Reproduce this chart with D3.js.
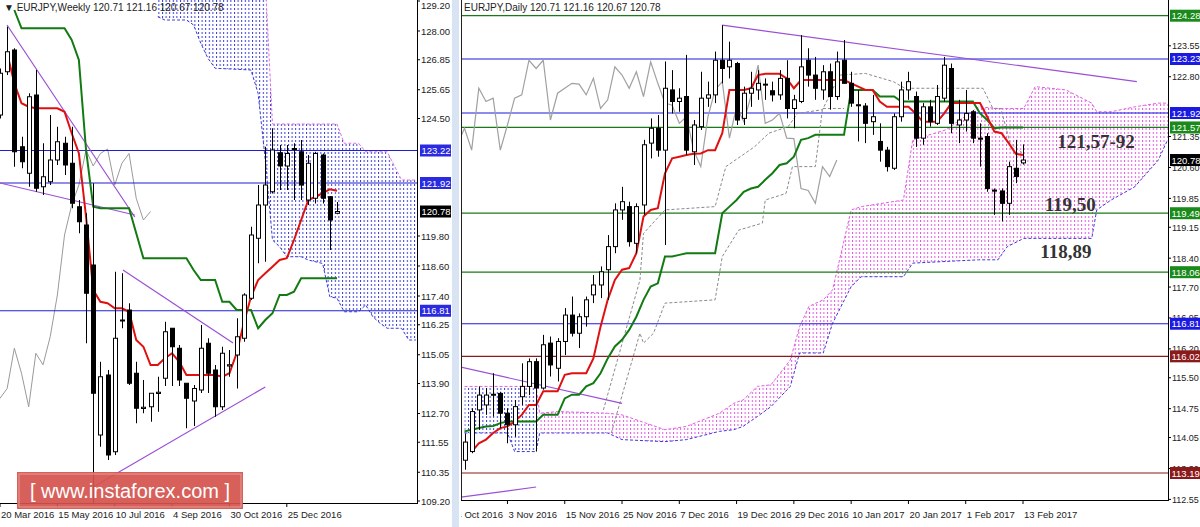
<!DOCTYPE html>
<html><head><meta charset="utf-8">
<script src="https://cdn.jsdelivr.net/npm/d3@7/dist/d3.min.js"></script>
<style>body{margin:0;background:#fff}svg{display:block;font-family:"Liberation Sans",Arial,sans-serif}</style>
</head><body><svg id="c" width="1200" height="527"></svg>
<script>
// ---------- WEEKLY DATA (index 0 = 20 Mar 2016) ----------
const wOpen  =[124.64,126.37,127.24,123.37,122.31,125.44,121.77,121.97,122.84,123.51,122.71,120.97,120.24,118.64,111.84,114.24,111.17,116.44,116.84,114.31,112.9,112.97,113.5,114.11,116.11,115.31,113.91,113.2,113.64,115.51,114.44,112.97,114.6,115.04,115.71,117.31,119.71,121.04,121.57,123.13,122.6,123.3,123.17,121.24,121.31,123.04,121.37,120.71];
const wClose =[126.31,127.17,123.17,122.77,125.37,121.71,122.17,122.84,123.57,122.64,121.11,120.37,117.51,113.51,114.17,111.04,115.71,116.4,113.91,112.91,112.95,113.51,113.55,115.97,115.37,114.04,113.31,113.7,115.31,114.31,112.97,115.11,114.65,115.77,117.44,119.84,121.04,121.84,123.24,122.6,123.1,123.28,121.84,122.71,123.1,121.31,120.44,120.78];
const wHigh  =[126.5,128.17,127.31,123.77,125.51,126.44,123.51,124.64,124.17,123.77,124.17,121.24,120.71,121.91,114.77,114.44,118.37,118.31,117.11,114.77,114.04,113.24,114.17,116.37,116.11,115.44,113.91,113.84,116.24,115.71,114.64,115.37,115.24,116.51,117.51,120.17,121.84,123.37,124.11,123.44,123.44,123.51,123.64,123.04,123.17,123.1,121.4,121.16];
const wLow   =[124.5,126.24,122.57,122.51,121.77,121.57,121.44,121.84,122.64,122.24,120.91,119.91,115.51,109.11,111.37,110.84,111.04,116.11,113.84,112.31,112.71,112.37,112.77,113.8,113.8,113.8,112.11,112.2,113.52,113.52,112.57,112.84,114.17,113.7,115.57,117.24,118.71,118.77,121.5,121.64,121.64,121.24,121.24,121.04,121.1,121.1,119.24,120.67];
const wTenkan=[null,127.11,125.91,125.11,124.97,124.91,124.91,124.91,124.91,124.77,123.91,123.11,120.57,117.64,117.17,117.11,116.91,116.91,116.77,115.64,115.37,114.64,114.64,114.91,115.11,114.77,114.24,114.24,114.24,114.24,114.24,114.17,114.31,115.11,116.31,117.37,118.04,118.31,118.57,118.84,118.91,119.64,120.44,121.24,121.37,121.51,121.67,121.61];
const wKijun =[null,null,128.84,128.11,128.11,128.11,128.11,128.11,128.11,128.11,127.64,126.84,123.24,120.97,120.91,120.91,120.91,120.91,120.91,119.91,118.91,118.91,118.91,118.91,118.91,118.91,118.91,118.44,118.04,118.04,118.04,117.17,117.17,116.84,116.84,116.84,116.11,116.44,116.71,117.44,117.44,117.57,118.11,118.11,118.11,118.11,118.11,118.11];
const wCloudIdx=[22,23,26,27,28,29,30,35,36,37,38,39,40,42,43,45,46,47,48,50,51,52,53,54,56,57,58];
const wCloudTop=[130,130,130,130,130,130,130,130,130,130,124.28,124.28,124.28,124.28,124.28,124.28,124.28,124.28,123.51,123.51,123.17,123.17,123.17,123.17,122.04,122.04,122.04];
const wCloudBot=[128.57,128.44,128.44,128.24,127.51,126.91,126.51,126.44,125.5,122.84,119.64,119.37,118.97,118.97,118.84,118.7,117.37,117.31,116.77,116.77,117.04,116.57,116.31,116.11,116.11,115.64,115.64];
const wTrend=[[[0.98,128.24],[18.8,120.56]],[[0,121.92],[18.8,120.64]],[[17.15,118.44],[32.5,115.52]],[[13,109.76],[37,113.76]]];
const wLevels=[123.22,121.92,116.81];
const wTicks=[129.20,128.00,126.85,125.65,124.50,119.80,118.60,117.40,116.25,115.05,113.90,112.70,111.55,110.35,109.20];
const wDates=["20 Mar 2016","15 May 2016","10 Jul 2016","4 Sep 2016","30 Oct 2016","25 Dec 2016"];
const wDateIdx=[0,8,16,24,32,40];

// ---------- DAILY DATA (index 78 = 13 Feb 2017) ----------
const dOpen =[113.5,113.71,114.72,114.84,115.08,115.12,114.64,114.36,115.04,115.29,115.89,115.25,116.34,115.73,116.38,117.02,116.58,116.98,117.51,117.75,118.12,118.68,119.57,119.65,118.76,119.69,121.19,121.55,121.02,122.48,122.2,122.32,120.98,121.59,122.28,122.36,123.2,123.04,123.12,121.79,122.4,122.48,122.6,122.46,122.36,122.76,122.03,122.2,123.2,122.84,122.48,122.92,122.32,123.2,122.64,122.12,122.09,121.71,121.23,121.02,120.58,121.83,122.48,122.32,121.31,122.07,121.67,122.28,123.0,121.63,121.75,121.95,121.31,121.35,120.05,120.03,119.73,120.58,120.71];
const dClose=[113.94,114.68,115.08,115.08,115.1,114.64,114.36,114.8,115.29,115.89,115.25,116.3,115.81,116.38,117.02,116.58,116.98,117.39,117.75,118.07,118.68,119.57,119.77,118.8,119.65,121.15,121.55,121.02,122.52,122.2,122.28,121.02,121.63,122.28,122.36,123.2,123.0,123.2,121.75,122.4,122.52,122.64,122.62,122.36,122.76,122.03,122.24,123.04,122.84,122.52,122.92,122.32,123.16,122.64,122.16,122.11,121.67,121.83,121.02,120.62,121.83,122.48,122.68,121.31,122.07,121.71,122.32,123.08,121.67,121.75,121.91,121.31,121.3,120.09,120.04,119.73,120.62,120.38,120.78];
const dHigh =[114.15,114.76,115.29,115.25,115.61,115.16,114.76,114.96,115.85,115.97,115.97,116.54,116.5,116.46,117.19,117.47,117.06,117.47,117.99,118.2,118.96,119.73,120.13,119.77,119.73,121.27,121.79,121.87,123.17,122.96,122.52,123.33,121.75,122.92,122.68,123.41,124.05,123.65,123.16,122.56,122.92,122.96,122.76,122.68,122.96,123.2,122.36,123.81,123.49,123.28,123.08,123.12,123.41,123.69,122.92,122.48,122.16,122.36,121.67,121.1,121.91,122.68,122.92,122.44,122.16,122.24,122.6,123.28,123.12,122.24,122.48,121.99,121.67,121.43,120.09,120.09,120.74,121.27,121.16];
const dLow  =[113.27,113.67,114.24,114.6,114.56,114.28,113.91,114.07,114.84,115.08,113.71,115.21,115.53,115.41,116.05,116.5,116.22,116.74,117.31,117.43,117.39,118.52,119.33,118.68,118.52,119.45,120.82,120.86,118.72,121.91,121.95,120.9,120.66,121.51,122.07,122.16,122.64,122.76,121.63,121.63,122.07,122.24,122.24,122.2,122.24,121.79,121.55,122.16,122.56,122.24,122.24,122.0,122.24,122.64,122.07,121.23,121.19,121.39,120.74,120.5,120.54,121.71,122.24,121.1,121.15,121.59,121.63,122.2,121.43,121.19,121.47,121.19,120.62,120.01,119.45,119.29,119.45,120.22,120.67];
const dTenkan=[null,113.71,113.91,114.0,114.16,114.28,114.32,114.44,114.6,114.84,114.84,115.17,115.17,115.17,115.57,115.61,115.61,115.61,115.97,116.74,117.39,117.87,118.12,118.16,118.52,119.41,119.57,119.61,120.46,120.82,120.86,120.9,120.93,120.94,121.02,121.02,121.43,122.48,122.48,122.48,122.52,122.84,122.87,122.87,122.87,122.76,122.52,122.72,122.72,122.72,122.72,122.72,122.72,122.72,122.64,122.56,122.48,122.48,122.2,122.07,122.07,122.07,122.07,121.91,121.71,121.71,121.71,121.91,122.16,122.16,122.16,122.16,122.16,121.83,121.47,121.43,121.19,120.93,120.9];
const dKijun =[114.2,114.24,114.28,114.32,114.33,114.4,114.44,114.44,114.44,114.44,114.44,114.6,114.6,114.6,115.0,115.09,115.09,115.29,115.37,115.61,115.97,116.26,116.42,116.66,116.98,117.39,117.71,117.79,118.44,118.44,118.48,118.52,118.52,118.52,118.52,118.52,119.49,119.65,119.81,120.01,120.09,120.13,120.3,120.46,120.66,120.7,120.86,121.27,121.31,121.39,121.39,121.39,121.39,121.39,122.48,122.48,122.48,122.48,122.32,122.32,122.32,122.2,122.2,122.2,122.2,122.2,122.2,122.2,122.2,122.2,122.2,122.2,121.91,121.75,121.55,121.57,121.57,121.57,121.57];
const dCloudIdx=[0,6,7,10,10.5,13,20,22,28,31,35.6,37.6,38.9,40.9,42.8,45.5,46.8,48.1,50.1,51.4,54,55.4,61.3,62.6,67.2,71.8,74.5,75.8,78.1,79.7,84,87.6,88.3,90.3,93.6,96.9,98.2];
const dCloudTop=[115.29,115.29,115.29,115.29,114.64,114.68,114.64,114.6,114.24,114.32,114.64,114.88,114.96,115.29,115.33,115.93,116.74,117.23,117.39,117.63,119.57,119.65,119.81,121.27,121.51,122.07,122.03,122.03,122.03,122.56,122.48,122.16,121.95,121.95,122.07,122.16,122.16];
const dCloudBot=[114.16,114.16,113.71,113.71,114.16,114.16,114.16,114.0,113.95,114.0,114.2,114.24,114.32,114.56,114.8,115.29,116.1,116.1,116.1,116.82,117.71,117.95,117.95,118.28,118.32,118.36,118.36,118.68,118.88,118.88,118.88,118.88,119.57,119.81,120.13,120.78,121.27];
const dDashA=[[19.4,114.72],[24.5,117.87],[25,119.0],[28,119.57],[35,119.65],[36.5,120.62],[38.5,120.86],[40.5,121.1],[42.5,121.43],[45.2,121.59],[46.5,121.91],[50,122.0],[52.4,122.84],[56,122.88],[59.9,122.68],[61.5,122.52],[72.4,122.52],[73.8,122.03],[74.9,122.03],[76.2,121.19],[78,120.94]];
const dDashB=[[20.5,114.16],[24.5,116.58],[25,116.34],[26.4,116.58],[28,117.31],[35,117.39],[36,118.44],[38.3,119.08],[41.6,119.25],[42,119.81],[44.9,119.97],[45.8,120.62],[49,120.62],[50,122.03],[53,122.03]];
const dTrend=[[[36,124.05],[93.9,122.68]],[[-0.6,115.76],[22,114.88]],[[-0.6,112.6],[10,112.85]]];
const dLevels=[{v:124.28,c:"#1a7a1a",l:"124.28"},{v:123.23,c:"#1a1ae0",l:"123.23"},{v:121.92,c:"#1a1ae0",l:"121.92"},{v:121.57,c:"#1a7a1a",l:"121.57"},{v:119.49,c:"#1a7a1a",l:"119.49"},{v:118.06,c:"#1a7a1a",l:"118.06"},{v:116.81,c:"#1a1ae0",l:"116.81"},{v:116.02,c:"#8b1a1a",l:"116.02"},{v:113.19,c:"#8b1a1a",l:"113.19"}];
const dTicks=[123.55,122.80,121.35,120.60,119.85,119.15,118.40,117.70,116.95,116.20,115.50,114.75,114.05,113.30,112.55];
const dDates=["24 Oct 2016","3 Nov 2016","15 Nov 2016","25 Nov 2016","7 Dec 2016","19 Dec 2016","29 Dec 2016","10 Jan 2017","20 Jan 2017","1 Feb 2017","13 Feb 2017"];
const dDateIdx=[-2,6,14,22,30,38,46,54,62,70,78];
const notes=[{t:"121,57-92",i:88.2,p:121.07},{t:"119,50",i:84.6,p:119.54},{t:"118,89",i:84,p:118.4}];

const svg=d3.select("#c");
const defs=svg.append("defs");
function pat(id,color,w){const p=defs.append("pattern").attr("id",id).attr("patternUnits","userSpaceOnUse").attr("width",w).attr("height",4);
 p.append("line").attr("x1",0.5).attr("x2",0.5).attr("y1",0).attr("y2",2).attr("stroke",color).attr("stroke-width",1);}
pat("pb","#3a3ad8",3.6);pat("pp","#e055e0",3.58);
defs.append("clipPath").attr("id","dateclip").append("rect").attr("x",461).attr("y",500).attr("width",739).attr("height",27);

function panel(o){
 const g=svg.append("g");
 const cid="clip"+o.name;
 defs.append("clipPath").attr("id",cid).append("rect").attr("x",o.x0).attr("y",0).attr("width",o.x1-o.x0).attr("height",o.yb);
 const pg=g.append("g").attr("clip-path",`url(#${cid})`);
 return {g,pg};
}
function drawCandles(pg,x,y,O,C,H,L,bw){
 const idx=d3.range(O.length);
 pg.selectAll(null).data(idx).join("line").attr("x1",i=>Math.round(x(i))+0.5).attr("x2",i=>Math.round(x(i))+0.5)
  .attr("y1",i=>y(H[i])).attr("y2",i=>y(L[i])).attr("stroke","#000");
 pg.selectAll(null).data(idx).join("rect").attr("x",i=>Math.round(x(i))-bw/2+0.5).attr("width",bw)
  .attr("y",i=>y(Math.max(O[i],C[i]))).attr("height",i=>Math.max(1,Math.abs(y(O[i])-y(C[i]))))
  .attr("fill",i=>C[i]>=O[i]?"#fff":"#000").attr("stroke","#000");
}
function lineOf(pg,pts,color,w,dash){
 pg.append("path").attr("d",d3.line().defined(d=>d[1]!=null).x(d=>d[0]).y(d=>d[1])(pts)).attr("fill","none")
  .attr("stroke",color).attr("stroke-width",w).attr("stroke-dasharray",dash||null);
}
function box(g,xx,yy,txt,bg,w){
 g.append("rect").attr("x",xx).attr("y",yy-6).attr("width",w).attr("height",12).attr("fill",bg);
 g.append("text").attr("x",xx+1.5).attr("y",yy+3.5).text(txt).attr("fill","#fff").attr("font-size",9.5);
}

// ---------- WEEKLY PANEL ----------
{
 const x=d3.scaleLinear().domain([0,47]).range([0,337]);
 const y=d3.scaleLinear().domain([109.2,129.2]).range([501,1]);
 const {g,pg}=panel({name:"w",x0:0,x1:417,yb:503});
 const cl=wCloudIdx.map((d,k)=>({i:d,t:wCloudTop[k],b:wCloudBot[k]}));
 pg.append("path").attr("d",d3.area().x(d=>x(d.i)).y0(d=>y(d.b)).y1(d=>y(d.t))(cl)).attr("fill","url(#pb)");
 lineOf(pg,cl.map(d=>[x(d.i),y(d.b)]),"#3a3ad8",1,"3,2");
 lineOf(pg,cl.map(d=>[x(d.i),y(d.t)]),"#e070e0",1,"3,2");
 lineOf(pg,wClose.map((c,i)=>[x(i-26),y(c)]),"#9a9a9a",1);
 wLevels.forEach(v=>pg.append("line").attr("x1",0).attr("x2",417).attr("y1",y(v)).attr("y2",y(v)).attr("stroke","#2020d0").attr("stroke-width",1.2));
 wTrend.forEach(t=>lineOf(pg,t.map(d=>[x(d[0]),y(d[1])]),"#9b4fd6",1.2));
 lineOf(pg,wKijun.map((v,i)=>[x(i),v==null?null:y(v)]),"#127a12",2);
 lineOf(pg,wTenkan.map((v,i)=>[x(i),v==null?null:y(v)]),"#e01010",2);
 drawCandles(pg,x,y,wOpen,wClose,wHigh,wLow,4);
 g.append("line").attr("x1",417.5).attr("x2",417.5).attr("y1",0).attr("y2",503).attr("stroke","#000");
 g.append("line").attr("x1",0).attr("x2",418).attr("y1",503.5).attr("y2",503.5).attr("stroke","#000");
 wTicks.forEach(v=>{g.append("line").attr("x1",417).attr("x2",420).attr("y1",y(v)).attr("y2",y(v)).attr("stroke","#000");
   g.append("text").attr("x",421).attr("y",Math.max(y(v)+3.5,9)).text(v.toFixed(2)).attr("font-size",9.5).attr("fill","#222");});
 wLevels.forEach(v=>box(g,420,y(v),v.toFixed(2),"#2a2ae0",31));
 box(g,420,y(120.78),"120.78","#000",31);
 wDateIdx.forEach((d,k)=>{g.append("line").attr("x1",x(d)).attr("x2",x(d)).attr("y1",503).attr("y2",507).attr("stroke","#000");
   g.append("text").attr("x",x(d)+1).attr("y",518).text(wDates[k]).attr("font-size",9.5).attr("fill","#222");});
 g.append("text").attr("x",4).attr("y",11).text("▼ EURJPY,Weekly  120.71 121.16 120.67 120.78").attr("font-size",10).attr("fill","#222");
}
svg.append("rect").attr("x",452).attr("y",0).attr("width",7).attr("height",527).attr("fill","#d8e4f4");

// ---------- DAILY PANEL ----------
{
 const x=d3.scaleLinear().domain([0,78]).range([464.5,1023]);
 const y=d3.scaleLinear().domain([112.55,124.28]).range([499.4,15.7]);
 const {g,pg}=panel({name:"d",x0:461,x1:1168,yb:500});
 const cl=dCloudIdx.map((d,k)=>({i:d,t:dCloudTop[k],b:dCloudBot[k]}));
 const ar=d3.area().x(d=>x(d.i)).y0(d=>y(d.b)).y1(d=>y(d.t));
 const split=10.5;
 pg.append("path").attr("d",ar(cl.filter(d=>d.i<=split))).attr("fill","url(#pb)");
 pg.append("path").attr("d",ar(cl.filter(d=>d.i>=split))).attr("fill","url(#pp)");
 lineOf(pg,cl.map(d=>[x(d.i),y(d.b)]),"#3a3ad8",1,"3,2");
 lineOf(pg,cl.map(d=>[x(d.i),y(d.t)]),"#e060e0",1,"3,2");
 dLevels.forEach(l=>pg.append("line").attr("x1",461).attr("x2",1168).attr("y1",y(l.v)).attr("y2",y(l.v)).attr("stroke",l.c).attr("stroke-width",1.2));
 lineOf(pg,dDashA.map(d=>[x(d[0]),y(d[1])]),"#8a8a8a",1,"3,2");
 lineOf(pg,dDashB.map(d=>[x(d[0]),y(d[1])]),"#8a8a8a",1,"3,2");
 lineOf(pg,dClose.map((c,i)=>[x(i-26),y(c)]),"#a0a0a0",1.2);
 dTrend.forEach(t=>lineOf(pg,t.map(d=>[x(d[0]),y(d[1])]),"#9b4fd6",1.2));
 lineOf(pg,dKijun.map((v,i)=>[x(i),y(v)]),"#127a12",2);
 lineOf(pg,dTenkan.map((v,i)=>[x(i),v==null?null:y(v)]),"#e01010",2);
 drawCandles(pg,x,y,dOpen,dClose,dHigh,dLow,4);
 notes.forEach(n=>g.append("text").attr("x",x(n.i)).attr("y",y(n.p)).attr("text-anchor","middle").text(n.t)
   .attr("font-family","'Liberation Serif','DejaVu Serif',serif").attr("font-weight","bold").attr("font-size",19).attr("fill","#333"));
 g.append("line").attr("x1",461.5).attr("x2",461.5).attr("y1",0).attr("y2",500).attr("stroke","#222");
 g.append("line").attr("x1",1168.5).attr("x2",1168.5).attr("y1",0).attr("y2",500).attr("stroke","#000");
 g.append("line").attr("x1",461).attr("x2",1169).attr("y1",500.5).attr("y2",500.5).attr("stroke","#000");
 dTicks.forEach(v=>{g.append("line").attr("x1",1168).attr("x2",1171).attr("y1",y(v)).attr("y2",y(v)).attr("stroke","#000");
   g.append("text").attr("x",1172).attr("y",y(v)+3.5).text(v.toFixed(2)).attr("font-size",9).attr("fill","#222");});
 dLevels.forEach(l=>box(g,1170,y(l.v),l.l,l.c==="#1a7a1a"?"#1a8a1a":l.c,30));
 box(g,1170,y(120.78),"120.78","#000",30);
 const dg=g.append("g").attr("clip-path","url(#dateclip)");
 dDateIdx.forEach((d,k)=>{dg.append("line").attr("x1",x(d)).attr("x2",x(d)).attr("y1",500).attr("y2",504).attr("stroke","#000");
   dg.append("text").attr("x",x(d)+1).attr("y",518).text(dDates[k]).attr("font-size",9.5).attr("fill","#222");});
 g.append("text").attr("x",464).attr("y",11).text("EURJPY,Daily  120.71 121.16 120.67 120.78").attr("font-size",10).attr("fill","#222");
}
svg.append("rect").attr("x",17).attr("y",472).attr("width",226).attr("height",37).attr("fill","#d4534d").attr("opacity",0.92);
svg.append("rect").attr("x",19).attr("y",474).attr("width",222).attr("height",33).attr("fill","none").attr("stroke","#e89a96");
svg.append("text").attr("x",130).attr("y",498).attr("text-anchor","middle").text("[  www.instaforex.com  ]")
 .attr("fill","#fff").attr("font-size",20);
</script></body></html>
